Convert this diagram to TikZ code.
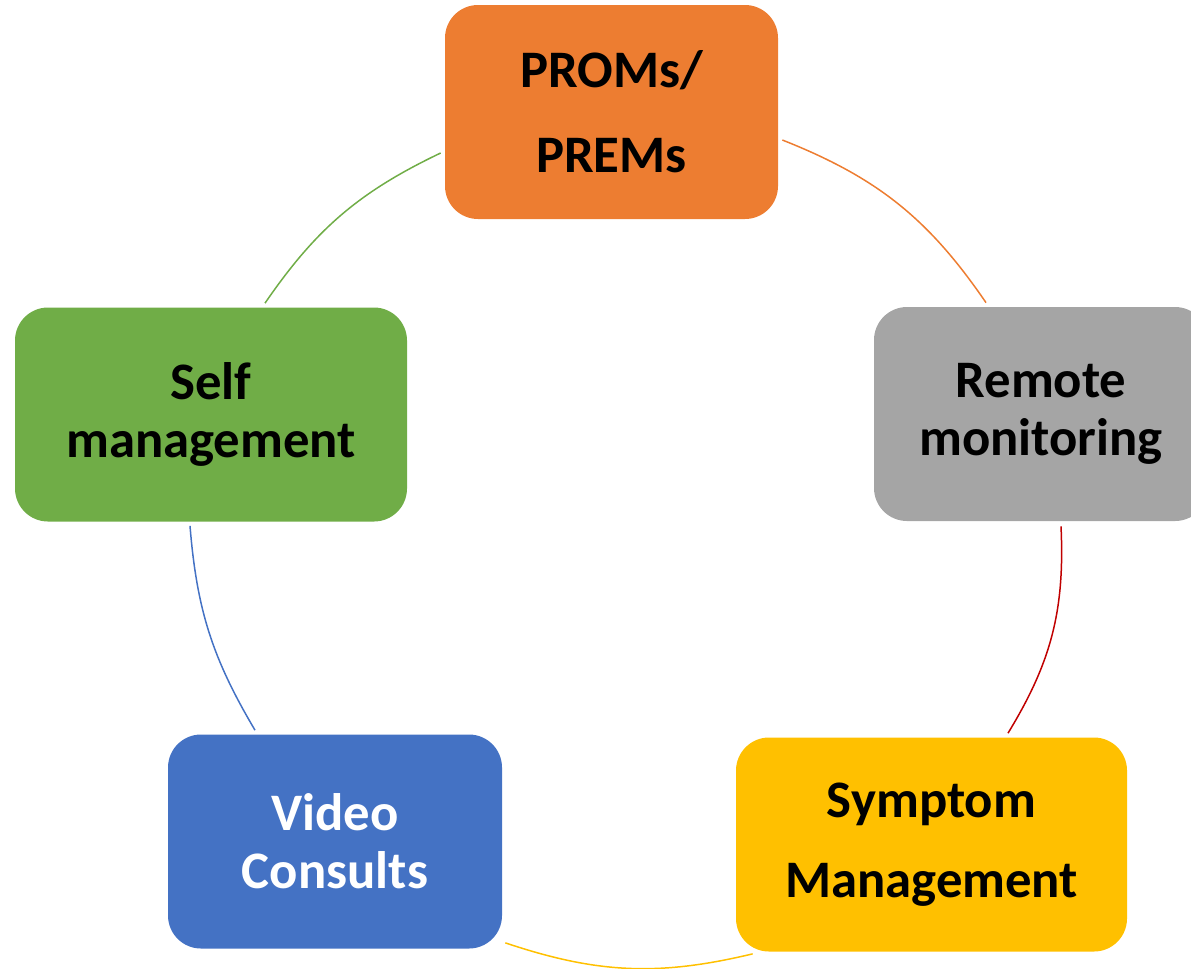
\documentclass[tikz,border=0pt]{standalone}
\usepackage{fontspec}
\setmainfont{Carlito}
\usepackage{xcolor}
\usetikzlibrary{positioning,calc}

\definecolor{promorange}{HTML}{ED7D31}
\definecolor{remotegray}{HTML}{A5A5A5}
\definecolor{symptomyellow}{HTML}{FFC000}
\definecolor{videoblue}{HTML}{4472C4}
\definecolor{selfgreen}{HTML}{70AD47}
\definecolor{linkred}{HTML}{C00000}

\begin{document}
\begin{tikzpicture}[
    stage/.style={rectangle, rounded corners=0.66cm, minimum height=4.28cm, align=center, font=\fontsize{30}{33}\selectfont\bfseries},
    link/.style={line width=0.85pt}
]
\useasboundingbox (0,0) rectangle (23.82,-19.36);

% Stages of the cycle
\node[stage, fill=promorange, minimum width=6.66cm] (proms) at (12.23,-2.24) {PROMs/\\[0.54cm]PREMs};
\node[stage, fill=remotegray, minimum width=6.68cm] (remote) at (20.82,-8.28) {Remote\\monitoring};
\node[stage, fill=symptomyellow, minimum width=7.82cm] (symptom) at (18.63,-16.89) {Symptom\\[0.44cm]Management};
\node[stage, fill=videoblue, text=white, minimum width=6.68cm] (video) at (6.70,-16.83) {Video\\Consults};
\node[stage, fill=selfgreen, minimum width=7.84cm] (self) at (4.22,-8.29) {Self\\management};

% Arcs (clockwise)
\draw[link, selfgreen] ([xshift=1.08cm, yshift=0.08cm]self.north) to[bend left=15] ([xshift=-0.08cm, yshift=-0.82cm]proms.west);
\draw[link, promorange] ([xshift=0.08cm, yshift=-0.56cm]proms.east) to[bend left=17] ([xshift=-1.1cm, yshift=0.08cm]remote.north);
\draw[link, linkred] ([xshift=0.4cm, yshift=-0.1cm]remote.south) to[bend left=17] ([xshift=1.53cm, yshift=0.08cm]symptom.north);
\draw[link, symptomyellow] ([xshift=0.34cm, yshift=-0.04cm]symptom.south west) to[bend left=16] ([xshift=0.06cm, yshift=0.12cm]video.south east);
\draw[link, videoblue] ([xshift=-1.6cm, yshift=0.08cm]video.north) to[bend left=13] ([xshift=-0.42cm, yshift=-0.08cm]self.south);

\end{tikzpicture}
\end{document}
